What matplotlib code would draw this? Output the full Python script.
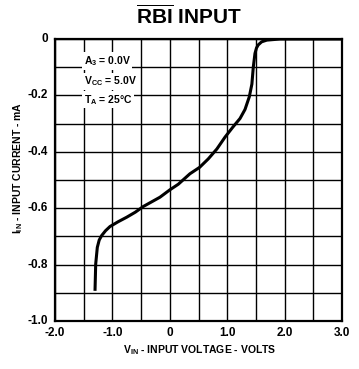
import numpy as np
import matplotlib
matplotlib.use('Agg')
import matplotlib.pyplot as plt

plt.rcParams['font.family'] = ['Liberation Sans', 'DejaVu Sans']
plt.rcParams['font.weight'] = 'bold'
plt.rcParams['mathtext.fontset'] = 'custom'
plt.rcParams['mathtext.rm'] = 'Liberation Sans:bold'
plt.rcParams['mathtext.it'] = 'Liberation Sans:bold'
plt.rcParams['mathtext.bf'] = 'Liberation Sans:bold'

# curve
v_in = [-1.303, -1.291, -1.263, -1.230, -1.187, -1.120, -1.042, -0.900, -0.751, -0.600,
        -0.462, -0.171, 0.000, 0.148, 0.350, 0.520, 0.671, 0.820, 0.962, 1.100,
        1.223, 1.310, 1.385, 1.430, 1.455, 1.484, 1.510, 1.540, 1.600, 1.690, 1.920, 3.000]
i_in = [-0.893, -0.798, -0.739, -0.713, -0.697, -0.680, -0.665, -0.648, -0.632, -0.614,
        -0.594, -0.561, -0.535, -0.515, -0.478, -0.455, -0.425, -0.390, -0.348, -0.312,
        -0.282, -0.250, -0.205, -0.160, -0.099, -0.051, -0.032, -0.021, -0.010, -0.004, 0.0, 0.0]

xticks = [-2.0, -1.0, 0, 1.0, 2.0, 3.0]
xtick_labels = ['-2.0', '-1.0', '0', '1.0', '2.0', '3.0']
yticks = [0, -0.2, -0.4, -0.6, -0.8, -1.0]
ytick_labels = ['0', '-0.2', '-0.4', '-0.6', '-0.8', '-1.0']

fig = plt.figure(figsize=(3.59, 3.69), dpi=100)
ax = fig.add_axes([55/359, 1 - 321/369, 287/359, 282/369])

ax.plot(v_in, i_in, color='black', linewidth=2.2, zorder=3, solid_capstyle='butt')

ax.set_xlim(-2.0, 3.0)
ax.set_ylim(-1.0, 0.0)
ax.set_xticks(np.arange(-2.0, 3.01, 0.5))
ax.set_yticks(np.arange(-1.0, 0.01, 0.1))
ax.grid(True, color='black', linewidth=1.0)
ax.set_xticklabels([])
ax.set_yticklabels([])
ax.tick_params(length=0)
for x, lab in zip(xticks, xtick_labels):
    ax.annotate(lab, (x, -1.0), xytext=(0, -4), textcoords='offset points',
                ha='center', va='top', fontsize=8.5, fontweight='bold', annotation_clip=False)
for y, lab in zip(yticks, ytick_labels):
    ax.annotate(lab, (-2.0, y), xytext=(-5, 0), textcoords='offset points',
                ha='right', va='center', fontsize=8.5, fontweight='bold', annotation_clip=False)
for s in ax.spines.values():
    s.set_linewidth(1.6)

box = dict(facecolor='white', edgecolor='none', pad=1.2)
ax.text(-1.50, -0.078, 'A$_3$ = 0.0V', fontsize=7.5, fontweight='bold', va='center',
        bbox=box, zorder=4)
ax.text(-1.50, -0.150, 'V$_{CC}$ = 5.0V', fontsize=7.5, fontweight='bold', va='center',
        bbox=box, zorder=4)
ax.text(-1.50, -0.215, 'T$_A$ = 25°C', fontsize=7.5, fontweight='bold', va='center',
        bbox=box, zorder=4)

fig.text(200/359, 1 - 350/369, 'V$_{IN}$ - INPUT VOLTAGE - VOLTS', ha='center', va='center',
         fontsize=7.5, fontweight='bold')
fig.text(18/359, 1 - 168/369, 'I$_{IN}$ - INPUT CURRENT - mA', ha='center', va='center',
         rotation=90, fontsize=7.5, fontweight='bold')

fig.text(189/359, 1 - 16/369, r'$\overline{\mathrm{RBI}}$ INPUT', ha='center', va='center',
         fontsize=15, fontweight='bold')

fig.savefig('out.png', dpi=100)
